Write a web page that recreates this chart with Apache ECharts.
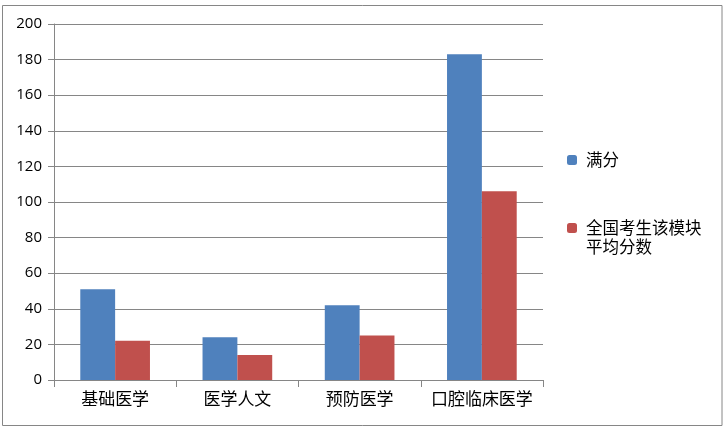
<!DOCTYPE html>
<html>
<head>
<meta charset="utf-8">
<script src="https://cdn.jsdelivr.net/npm/echarts@6/dist/echarts.min.js"></script>
<style>html,body{margin:0;padding:0;background:#fff;}#c{width:725px;height:430px;}</style>
</head>
<body>
<div id="c"></div>
<script>
var categories = ['基础医学', '医学人文', '预防医学', '口腔临床医学'];
var fullScore = [51, 24, 42, 183];
var avgScore = [22, 14, 25, 106];
var seriesNames = ['满分', '全国考生该模块平均分数'];
var yTicks = { min: 0, max: 200, interval: 20 };

var chart = echarts.init(document.getElementById('c'), null, { renderer: 'canvas' });
var fontCJK = '"Noto Sans CJK SC", "Noto Sans", sans-serif';
chart.setOption({
  animation: false,
  backgroundColor: '#fff',
  grid: { left: 54, right: 182, top: 24, bottom: 50, containLabel: false },
  graphic: [{
    type: 'rect',
    shape: { x: 2.5, y: 5.5, width: 719.5, height: 420 },
    style: { fill: 'none', stroke: '#868686', lineWidth: 1 },
    silent: true, z: -1
  }],
  legend: [{
    data: [seriesNames[0]],
    orient: 'vertical', left: 567, top: 150.5, padding: 0,
    itemWidth: 10, itemHeight: 10, itemGap: 0,
    textStyle: { fontSize: 16.5, color: '#000', fontFamily: fontCJK, lineHeight: 19, padding: [0, 0, 0, 4] }
  }, {
    data: [seriesNames[1]],
    orient: 'vertical', left: 567, top: 199.5, padding: 0,
    itemWidth: 10, itemHeight: 10, itemGap: 0,
    formatter: function (n) { return ' \n全国考生该模块\n平均分数'; },
    textStyle: { fontSize: 16.5, color: '#000', fontFamily: fontCJK, lineHeight: 19, padding: [0, 0, 0, 4] }
  }],
  xAxis: {
    type: 'category', data: categories,
    axisLine: { lineStyle: { color: '#868686', width: 1 } },
    axisTick: { show: true, length: 7, interval: 0, alignWithLabel: false, lineStyle: { color: '#868686' } },
    axisLabel: { color: '#000', fontSize: 17, interval: 0, hideOverlap: false, fontFamily: fontCJK, margin: 10 }
  },
  yAxis: {
    type: 'value', min: yTicks.min, max: yTicks.max, interval: yTicks.interval,
    axisLine: { show: true, lineStyle: { color: '#868686', width: 1 } },
    axisTick: { show: true, length: 6, lineStyle: { color: '#868686' } },
    splitLine: { lineStyle: { color: '#868686', width: 1 } },
    axisLabel: { color: '#000', fontSize: 15, fontFamily: '"Open Sans", "Noto Sans", sans-serif', margin: 12 }
  },
  series: [{
    name: seriesNames[0], type: 'bar', data: fullScore,
    itemStyle: { color: '#4F81BD' }, barGap: '0%', barCategoryGap: '43%'
  }, {
    name: seriesNames[1], type: 'bar', data: avgScore,
    itemStyle: { color: '#C0504D' }, barGap: '0%', barCategoryGap: '43%'
  }]
});
</script>
</body>
</html>
